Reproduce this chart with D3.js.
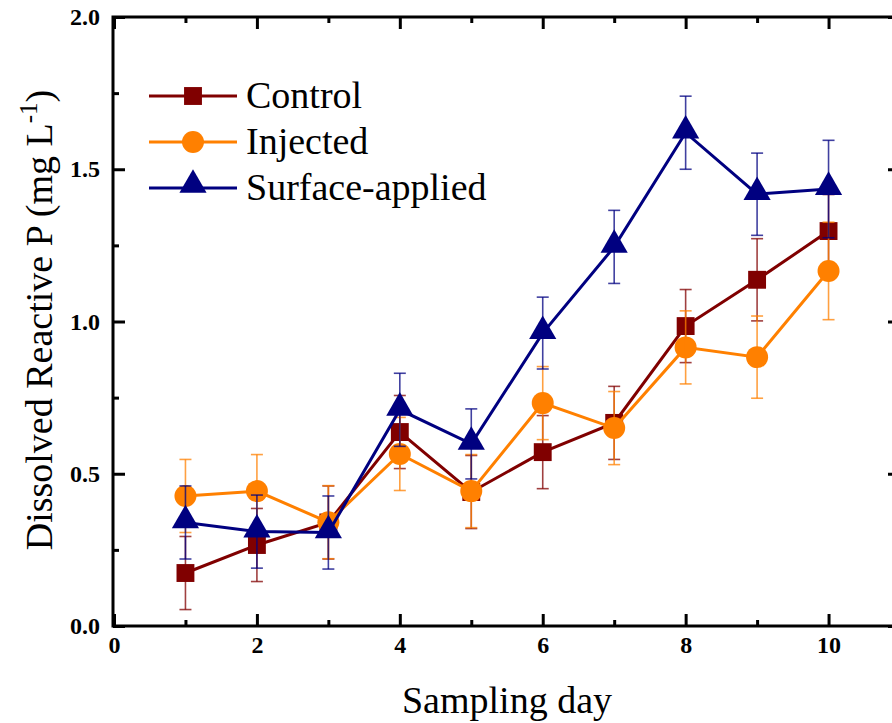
<!DOCTYPE html>
<html>
<head>
<meta charset="utf-8">
<script src="https://cdn.jsdelivr.net/npm/d3@7"></script>
<style>
  body { margin: 0; background: #fff; }
  svg { display: block; font-family: "Liberation Serif", "Times New Roman", serif; }
</style>
</head>
<body>
<svg id="chart" width="892" height="723"></svg>
<script>
const days = [1, 2, 3, 4, 5, 6, 7, 8, 9, 10];

const controlMean = [0.174, 0.266, 0.34, 0.637, 0.44, 0.571, 0.667, 0.985, 1.137, 1.297];
const controlSE   = [0.12, 0.12, 0.12, 0.12, 0.12, 0.12, 0.12, 0.12, 0.135, 0.12];

const injectedMean = [0.427, 0.443, 0.341, 0.565, 0.443, 0.732, 0.65, 0.915, 0.883, 1.166];
const injectedSE   = [0.12, 0.12, 0.12, 0.12, 0.12, 0.12, 0.12, 0.12, 0.135, 0.16];

const surfaceMean = [0.34, 0.31, 0.307, 0.71, 0.598, 0.962, 1.245, 1.62, 1.418, 1.435];
const surfaceSE   = [0.12, 0.12, 0.12, 0.12, 0.115, 0.118, 0.12, 0.12, 0.135, 0.16];

const xMajor = [0, 2, 4, 6, 8, 10];
const xMinor = [1, 3, 5, 7, 9];
const yMajor = [0, 0.5, 1.0, 1.5, 2.0];
const yMinor = [0.25, 0.75, 1.25, 1.75];

const series = [
  { name: 'Control', mean: controlMean, se: controlSE, color: '#800000', symbol: d3.symbolSquare, size: 320 },
  { name: 'Injected', mean: injectedMean, se: injectedSE, color: '#ff8000', symbol: d3.symbolCircle, size: 380 },
  { name: 'Surface-applied', mean: surfaceMean, se: surfaceSE, color: '#000080', symbol: d3.symbolTriangle, size: 320 }
];

const svg = d3.select('#chart');
const mLeft = 113, mRight = 900, mTop = 17, mBottom = 626;

const x = d3.scaleLinear().domain([0, 11]).range([114, 900]);
const y = d3.scaleLinear().domain([0, 2]).range([mBottom, mTop]);

// axes with inward ticks
function styleAxis(g) {
  g.select('.domain').remove();
  g.selectAll('.tick line').attr('stroke', '#000').attr('stroke-width', 3);
  g.selectAll('.tick text')
    .attr('fill', '#000')
    .style('font-family', '"Liberation Serif", serif')
    .style('font-weight', 'bold')
    .style('font-size', '24px');
}

svg.append('g').attr('transform', `translate(0,${mBottom})`)
  .call(d3.axisBottom(x).tickValues(xMajor).tickSize(-12).tickPadding(10).tickFormat(d3.format('d')))
  .call(styleAxis);
svg.append('g').attr('transform', `translate(0,${mBottom})`)
  .call(d3.axisBottom(x).tickValues(xMinor).tickSize(-6).tickFormat(''))
  .call(styleAxis);
svg.append('g').attr('transform', `translate(0,${mTop})`)
  .call(d3.axisTop(x).tickValues(xMajor).tickSize(-12).tickFormat(''))
  .call(styleAxis);
svg.append('g').attr('transform', `translate(0,${mTop})`)
  .call(d3.axisTop(x).tickValues(xMinor).tickSize(-6).tickFormat(''))
  .call(styleAxis);

svg.append('g').attr('transform', `translate(${mLeft},0)`)
  .call(d3.axisLeft(y).tickValues(yMajor).tickSize(-12).tickPadding(13).tickFormat(d3.format('.1f')))
  .call(styleAxis);
svg.append('g').attr('transform', `translate(${mLeft},0)`)
  .call(d3.axisLeft(y).tickValues(yMinor).tickSize(-6).tickFormat(''))
  .call(styleAxis);
svg.append('g').attr('transform', `translate(${mRight},0)`)
  .call(d3.axisRight(y).tickValues(yMajor).tickSize(-12).tickFormat(''))
  .call(styleAxis);
svg.append('g').attr('transform', `translate(${mRight},0)`)
  .call(d3.axisRight(y).tickValues(yMinor).tickSize(-6).tickFormat(''))
  .call(styleAxis);

svg.append('rect')
  .attr('x', mLeft).attr('y', mTop)
  .attr('width', mRight - mLeft).attr('height', mBottom - mTop)
  .attr('fill', 'none').attr('stroke', '#000').attr('stroke-width', 3);

// series
const line = d3.line().x(d => x(d.day)).y(d => y(d.v));
const capW = 6;

series.forEach(s => {
  const pts = days.map((day, i) => ({ day, v: s.mean[i], e: s.se[i] }));
  const g = svg.append('g');

  g.append('path')
    .datum(pts)
    .attr('d', line)
    .attr('fill', 'none')
    .attr('stroke', s.color)
    .attr('stroke-width', 3);

  g.selectAll('.mk')
    .data(pts)
    .enter().append('path')
    .attr('class', 'mk')
    .attr('transform', d => `translate(${x(d.day)},${y(d.v) + (s.symbol === d3.symbolTriangle ? -2 : 0)})`)
    .attr('d', d3.symbol().type(s.symbol).size(s.size))
    .attr('fill', s.color);

  const eb = g.append('g')
    .attr('stroke', s.color)
    .attr('stroke-width', 1.6)
    .attr('stroke-opacity', 0.75);
  pts.forEach(d => {
    const cx = x(d.day), y1 = y(d.v + d.e), y0 = y(d.v - d.e);
    eb.append('line').attr('x1', cx).attr('x2', cx).attr('y1', y1).attr('y2', y0);
    eb.append('line').attr('x1', cx - capW).attr('x2', cx + capW).attr('y1', y1).attr('y2', y1);
    eb.append('line').attr('x1', cx - capW).attr('x2', cx + capW).attr('y1', y0).attr('y2', y0);
  });
});

// legend
const legend = svg.append('g');
series.forEach((s, i) => {
  const ly = 96 + i * 46;
  legend.append('line')
    .attr('x1', 149).attr('x2', 237).attr('y1', ly).attr('y2', ly)
    .attr('stroke', s.color).attr('stroke-width', 3);
  legend.append('path')
    .attr('transform', `translate(193,${ly + (s.symbol === d3.symbolTriangle ? -3 : 0)})`)
    .attr('d', d3.symbol().type(s.symbol).size(s.size))
    .attr('fill', s.color);
  legend.append('text')
    .attr('x', 246).attr('y', ly + 12)
    .style('font-size', '38px')
    .text(s.name);
});

// axis titles
svg.append('text')
  .attr('x', 507).attr('y', 713)
  .attr('text-anchor', 'middle')
  .style('font-size', '38px')
  .text('Sampling day');

const yt = svg.append('text')
  .attr('transform', 'translate(52,320) rotate(-90)')
  .attr('text-anchor', 'middle')
  .style('font-size', '38px');
yt.append('tspan').text('Dissolved Reactive P (mg L');
yt.append('tspan').attr('dy', -15).style('font-size', '25px').text('-1');
yt.append('tspan').attr('dy', 15).text(')');
</script>
</body>
</html>
